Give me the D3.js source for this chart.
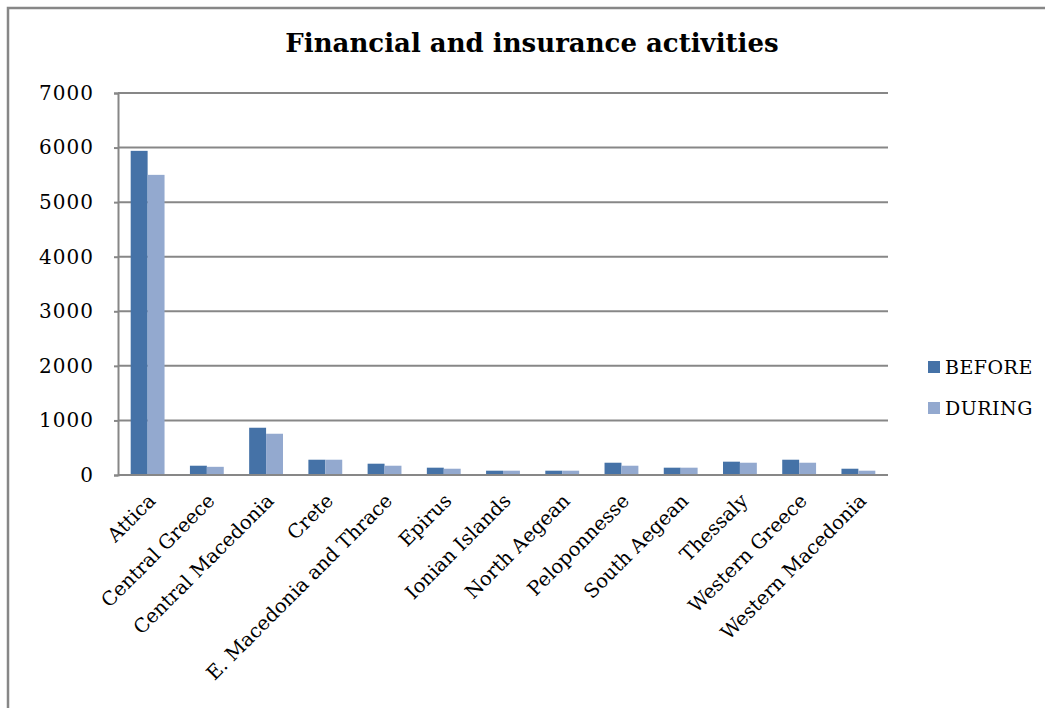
<!DOCTYPE html>
<html>
<head>
<meta charset="utf-8">
<script src="https://cdn.jsdelivr.net/npm/d3@7"></script>
<style>
  html, body { margin: 0; padding: 0; background: #fff; }
  svg { display: block; }
</style>
</head>
<body>
<svg id="chart" width="1045" height="708"></svg>
<script>
// Employment in financial and insurance activities by region
const regions = [
  "Attica", "Central Greece", "Central Macedonia", "Crete",
  "E. Macedonia and Thrace", "Epirus", "Ionian Islands", "North Aegean",
  "Peloponnesse", "South Aegean", "Thessaly", "Western Greece",
  "Western Macedonia"
];
const before = [5940, 170, 866, 280, 207, 134, 79, 79, 225, 134, 244, 280, 115];
const during = [5500, 150, 756, 280, 170, 115, 79, 79, 170, 134, 225, 225, 79];
const seriesNames = ["BEFORE", "DURING"];
const seriesColors = ["#4572A7", "#93A9CF"];
const yTicks = [0, 1000, 2000, 3000, 4000, 5000, 6000, 7000];

const svg = d3.select("#chart");
const W = 1045, H = 708;
const plot = { left: 118, top: 93, right: 888, bottom: 475 };
const serif = "'DejaVu Serif', 'Liberation Serif', serif";

// outer chart frame
svg.append("rect")
  .attr("x", 8).attr("y", 8).attr("width", W + 10).attr("height", H + 10)
  .attr("fill", "none").attr("stroke", "#878787").attr("stroke-width", 2.5);

// title
svg.append("text")
  .attr("x", 532).attr("y", 52)
  .attr("text-anchor", "middle")
  .attr("font-family", serif)
  .attr("font-weight", "bold")
  .attr("font-size", 26)
  .attr("fill", "#000")
  .text("Financial and insurance activities");

const x = d3.scaleBand()
  .domain(regions)
  .range([plot.left, plot.right])
  .paddingInner(0.4286)
  .paddingOuter(0.2143);

const xSub = d3.scaleBand()
  .domain(seriesNames)
  .range([0, x.bandwidth()]);

const y = d3.scaleLinear()
  .domain([0, 7000])
  .range([plot.bottom, plot.top]);

// horizontal gridlines
svg.append("g")
  .selectAll("line")
  .data(yTicks.filter(d => d > 0))
  .join("line")
  .attr("x1", plot.left).attr("x2", plot.right)
  .attr("y1", d => y(d)).attr("y2", d => y(d))
  .attr("stroke", "#878787").attr("stroke-width", 2);

// bars
const rows = regions.map((r, i) => ({ region: r, values: [before[i], during[i]] }));
const groups = svg.append("g")
  .selectAll("g")
  .data(rows)
  .join("g")
  .attr("transform", d => `translate(${x(d.region)},0)`);

groups.selectAll("rect")
  .data(d => d.values.map((v, k) => ({ key: seriesNames[k], value: v, color: seriesColors[k] })))
  .join("rect")
  .attr("x", d => xSub(d.key))
  .attr("width", xSub.bandwidth())
  .attr("y", d => y(d.value))
  .attr("height", d => y(0) - y(d.value))
  .attr("fill", d => d.color);

// y axis
const yAxis = d3.axisLeft(y)
  .tickValues(yTicks)
  .tickSize(4)
  .tickPadding(20)
  .tickFormat(d3.format("d"));

const gy = svg.append("g")
  .attr("transform", `translate(${plot.left},0)`)
  .call(yAxis);
gy.select(".domain").attr("stroke", "#878787").attr("stroke-width", 2);
gy.selectAll(".tick line").attr("stroke", "#878787").attr("stroke-width", 2);
gy.selectAll(".tick text")
  .attr("font-family", serif)
  .attr("font-size", 20)
  .attr("letter-spacing", 1)
  .attr("fill", "#000");

// x axis (baseline + rotated labels)
const xAxis = d3.axisBottom(x).tickSize(0).tickPadding(0);
const gx = svg.append("g")
  .attr("transform", `translate(0,${plot.bottom})`)
  .call(xAxis);
gx.select(".domain")
  .attr("d", `M${plot.left},0H${plot.right}`)
  .attr("stroke", "#878787").attr("stroke-width", 2);
gx.selectAll(".tick text")
  .attr("font-family", serif)
  .attr("font-size", 19.5)
  .attr("fill", "#000")
  .attr("text-anchor", "end")
  .attr("dy", 0)
  .attr("y", 0)
  .attr("transform", "translate(9,27) rotate(-45)");

// legend
const legend = svg.append("g")
  .selectAll("g")
  .data(seriesNames)
  .join("g")
  .attr("transform", (d, i) => `translate(928,${367 + i * 41})`);
legend.append("rect")
  .attr("x", 0).attr("y", -6).attr("width", 12).attr("height", 12)
  .attr("fill", (d, i) => seriesColors[i]);
legend.append("text")
  .attr("x", 17).attr("y", 7)
  .attr("font-family", serif)
  .attr("font-size", 19)
  .attr("letter-spacing", 0.5)
  .attr("fill", "#000")
  .text(d => d);
</script>
</body>
</html>
